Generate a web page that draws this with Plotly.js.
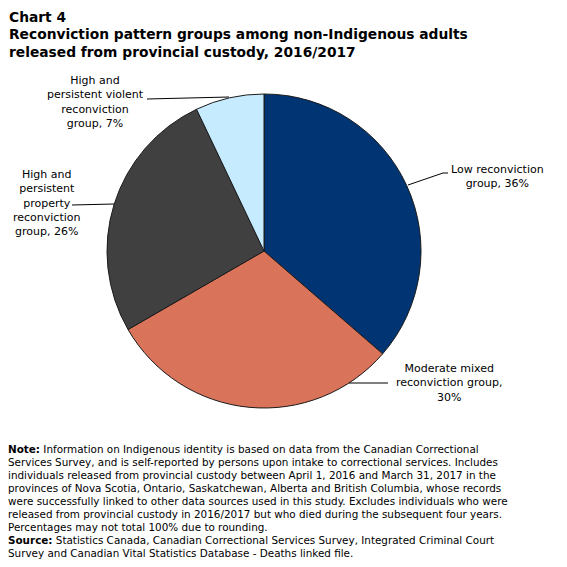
<!DOCTYPE html>
<html><head><meta charset="utf-8">
<script src="https://cdn.plot.ly/plotly-3.0.1.min.js"></script>
<style>html,body{margin:0;padding:0;background:#fff}#chart{width:567px;height:567px}</style>
</head><body><div id="chart"></div>
<script>
const categories = [
  "Low reconviction group",
  "Moderate mixed reconviction group",
  "High and persistent property reconviction group",
  "High and persistent violent reconviction group"
];
const values = [36, 30, 26, 7];
const colors = ["#003473", "#D9735A", "#404040", "#C6EBFF"];
const sliceLabels = [
  "Low reconviction<br>group, 36%",
  "Moderate mixed<br>reconviction group,<br>30%",
  "High and<br>persistent<br>property<br>reconviction<br>group, 26%",
  "High and<br>persistent violent<br>reconviction<br>group, 7%"
];
const titleLines = [
  "Chart 4",
  "Reconviction pattern groups among non-Indigenous adults",
  "released from provincial custody, 2016/2017"
];
const noteLines = [
  "<b>Note:</b> Information on Indigenous identity is based on data from the Canadian Correctional",
  "Services Survey, and is self-reported by persons upon intake to correctional services. Includes",
  "individuals released from provincial custody between April 1, 2016 and March 31, 2017 in the",
  "provinces of Nova Scotia, Ontario, Saskatchewan, Alberta and British Columbia, whose records",
  "were successfully linked to other data sources used in this study. Excludes individuals who were",
  "released from provincial custody in 2016/2017 but who died during the subsequent four years.",
  "Percentages may not total 100% due to rounding.",
  "<b>Source:</b> Statistics Canada, Canadian Correctional Services Survey, Integrated Criminal Court",
  "Survey and Canadian Vital Statistics Database - Deaths linked file."
];

const W = 567, H = 567;
const px = x => x / W;
const py = y => 1 - y / H;
const FONT = "DejaVu Sans, Verdana, sans-serif";

// label placement (pixels)
const labelPos = [[497, 176], [449, 383], [47, 203], [95, 102]];
const leaders = [
  [[408, 185], [443, 173], [448, 173]],
  [[349, 383], [388, 383]],
  [[72, 205], [114, 204]],
  [[147, 99], [229, 97]]
];

const annotations = [];
titleLines.forEach((t, i) => {
  annotations.push({xref: "paper", yref: "paper", x: px(7), y: py(17 + i * 17.5),
    xanchor: "left", yanchor: "middle", showarrow: false, align: "left",
    text: "<b>" + t + "</b>", font: {family: FONT, size: 13.8, color: "#000"}});
});
noteLines.forEach((t, i) => {
  annotations.push({xref: "paper", yref: "paper", x: px(6), y: py(449 + i * 13),
    xanchor: "left", yanchor: "middle", showarrow: false, align: "left",
    text: t, font: {family: FONT, size: 10.4, color: "#000"}});
});
sliceLabels.forEach((t, i) => {
  annotations.push({xref: "paper", yref: "paper", x: px(labelPos[i][0]), y: py(labelPos[i][1]),
    xanchor: "center", yanchor: "middle", showarrow: false, align: "center",
    text: t, font: {family: FONT, size: 11, color: "#000"}});
});

const shapes = leaders.map(pts => ({
  type: "path", xref: "paper", yref: "paper",
  path: pts.map((p, i) => (i ? "L" : "M") + px(p[0]) + "," + py(p[1])).join(" "),
  line: {color: "#000", width: 1}
}));

const trace = {
  type: "pie",
  labels: categories,
  values: values,
  sort: false,
  direction: "clockwise",
  rotation: 0,
  textinfo: "none",
  hoverinfo: "label+percent",
  marker: {colors: colors, line: {color: "#1a1a1a", width: 1}},
  domain: {x: [107 / W, 421 / W], y: [(H - 251 - 157) / H, (H - 251 + 157) / H]},
  showlegend: false
};

Plotly.newPlot("chart", [trace], {
  width: W, height: H,
  margin: {l: 0, r: 0, t: 0, b: 0},
  paper_bgcolor: "#fff",
  showlegend: false,
  annotations: annotations,
  shapes: shapes
}, {displayModeBar: false, staticPlot: true});
</script></body></html>
